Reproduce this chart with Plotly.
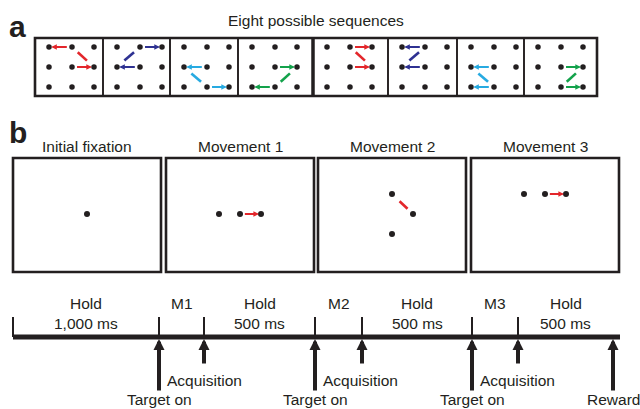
import plotly.graph_objects as go

# ---------------- data ----------------
title_a = "Eight possible sequences"
seq_colors = ["#e3262b", "#2e3192", "#27aae1", "#13a24b",
              "#e3262b", "#2e3192", "#27aae1", "#13a24b"]
# grid columns / rows visited by each sequence (start at centre)
seq_cols = [[1, 2, 1, 0], [1, 0, 1, 2], [1, 0, 1, 2], [1, 2, 1, 0],
            [1, 2, 1, 2], [1, 0, 1, 0], [1, 0, 1, 0], [1, 2, 1, 2]]
seq_rows = [[1, 1, 0, 0], [1, 1, 0, 0], [1, 1, 2, 2], [1, 1, 2, 2],
            [1, 1, 0, 0], [1, 1, 0, 0], [1, 1, 2, 2], [1, 1, 2, 2]]

stage_titles = ["Initial fixation", "Movement 1", "Movement 2", "Movement 3"]
stage_dot_cols = [[1], [0, 1, 2], [1, 2, 1], [0, 1, 2]]
stage_dot_rows = [[1], [1, 1, 1], [0, 1, 2], [0, 0, 0]]
stage_arrow_from = [None, (1, 1), (2, 1), (1, 0)]
stage_arrow_to = [None, (2, 1), (1, 0), (2, 0)]
stage_color = "#e3262b"

phase_top = ["Hold", "M1", "Hold", "M2", "Hold", "M3", "Hold"]
phase_bottom = ["1,000 ms", "", "500 ms", "", "500 ms", "", "500 ms"]
event_labels = ["Target on", "Acquisition", "Target on", "Acquisition",
                "Target on", "Acquisition", "Reward"]
event_kind = ["target", "acq", "target", "acq", "target", "acq", "reward"]

# ---------------- layout constants ----------------
W, H = 640, 409
INK = "#231f20"
FONT = "Liberation Sans, Arial, sans-serif"
FS = 15.5

a_edges = [35, 103, 170, 238, 313, 388, 457, 524, 597]
a_top, a_bot = 38, 96
a_colx = [14, 37, 59]
a_rowy = [47, 67, 87]

b_x0 = [13, 166, 318, 471]
b_w = 148
b_top, b_bot = 158, 272
b_dx, b_dy = 21, 20
b_cy = 214

tl_y = 337
tl_x = [13, 159, 204, 315, 362, 472, 518, 613]
tl_end = 620

fig = go.Figure()
shapes = []
ann = []


def txt(x, y, s, size=FS, bold=False, xanchor="center", yanchor="middle"):
    ann.append(dict(x=x, y=y, xref="x", yref="y", text=("<b>%s</b>" % s) if bold else s,
                    showarrow=False, xanchor=xanchor, yanchor=yanchor, borderpad=0,
                    font=dict(family=FONT, size=size, color=INK)))


def arrow(x0, y0, x1, y1, color, width, size):
    ann.append(dict(x=x1, y=y1, ax=x0, ay=y0, xref="x", yref="y", axref="x", ayref="y",
                    showarrow=True, arrowhead=2, arrowsize=size, arrowwidth=width,
                    arrowcolor=color, standoff=0, startstandoff=0, text=""))


def seg(x0, y0, x1, y1, color, width):
    shapes.append(dict(type="line", x0=x0, y0=y0, x1=x1, y1=y1, xref="x", yref="y",
                       line=dict(color=color, width=width)))


# ---------- panel a ----------
txt(17, 26, "a", size=30, bold=True)
txt((a_edges[0] + a_edges[-1]) / 2, 20, title_a)
dx_all, dy_all = [], []
for i in range(8):
    L, R = a_edges[i], a_edges[i + 1]
    shapes.append(dict(type="rect", x0=L, x1=R, y0=a_top, y1=a_bot, xref="x", yref="y",
                       line=dict(color=INK, width=1.6)))
    for cx in a_colx:
        for ry in a_rowy:
            dx_all.append(L + cx)
            dy_all.append(ry)
    cols, rows = seq_cols[i], seq_rows[i]
    for k in range(3):
        px, py = L + a_colx[cols[k]], a_rowy[rows[k]]
        qx, qy = L + a_colx[cols[k + 1]], a_rowy[rows[k + 1]]
        if py == qy:
            f0, f1 = 0.16, 0.9
            arrow(px + f0 * (qx - px), py, px + f1 * (qx - px), qy, seq_colors[i], 2.2, 0.5)
        else:
            f0, f1 = 0.32, 0.74
            seg(px + f0 * (qx - px), py + f0 * (qy - py),
                px + f1 * (qx - px), py + f1 * (qy - py), seq_colors[i], 2.6)
shapes.append(dict(type="rect", x0=a_edges[0], x1=a_edges[-1], y0=a_top, y1=a_bot,
                   xref="x", yref="y", line=dict(color=INK, width=2.6)))
shapes.append(dict(type="line", x0=a_edges[4], x1=a_edges[4], y0=a_top, y1=a_bot,
                   xref="x", yref="y", line=dict(color=INK, width=3.5)))
fig.add_trace(go.Scatter(x=dx_all, y=dy_all, mode="markers", hoverinfo="skip",
                         marker=dict(size=5.5, color=INK), showlegend=False))

# ---------- panel b ----------
txt(18, 132, "b", size=30, bold=True)
bx, by = [], []
for i in range(4):
    L = b_x0[i]
    cx = L + b_w / 2
    shapes.append(dict(type="rect", x0=L, x1=L + b_w, y0=b_top, y1=b_bot, xref="x", yref="y",
                       line=dict(color=INK, width=2.6)))
    txt(cx, 146, stage_titles[i])
    for c, r in zip(stage_dot_cols[i], stage_dot_rows[i]):
        bx.append(cx + (c - 1) * b_dx)
        by.append(b_cy + (r - 1) * b_dy)
    if stage_arrow_from[i] is not None:
        (c0, r0), (c1, r1) = stage_arrow_from[i], stage_arrow_to[i]
        px, py = cx + (c0 - 1) * b_dx, b_cy + (r0 - 1) * b_dy
        qx, qy = cx + (c1 - 1) * b_dx, b_cy + (r1 - 1) * b_dy
        if py == qy:
            arrow(px + 0.16 * (qx - px), py, px + 0.9 * (qx - px), qy, stage_color, 2.2, 0.5)
        else:
            seg(px + 0.26 * (qx - px), py + 0.26 * (qy - py),
                px + 0.64 * (qx - px), py + 0.64 * (qy - py), stage_color, 2.6)
fig.add_trace(go.Scatter(x=bx, y=by, mode="markers", hoverinfo="skip",
                         marker=dict(size=6, color=INK), showlegend=False))

# ---------- timeline ----------
shapes.append(dict(type="line", x0=tl_x[0], x1=tl_end, y0=tl_y, y1=tl_y, xref="x", yref="y",
                   line=dict(color=INK, width=5)))
for x in tl_x[:-1]:
    shapes.append(dict(type="line", x0=x, x1=x, y0=tl_y - 20, y1=tl_y, xref="x", yref="y",
                       line=dict(color=INK, width=2)))
for i in range(7):
    mx = (tl_x[i] + tl_x[i + 1]) / 2
    txt(mx, 303, phase_top[i])
    if phase_bottom[i]:
        txt(mx, 323, phase_bottom[i])
for i in range(7):
    x = tl_x[i + 1]
    if event_kind[i] == "acq":
        arrow(x, 365, x, tl_y + 2, INK, 4, 0.55)
    else:
        arrow(x, 392, x, tl_y + 2, INK, 4, 0.55)
for i in range(7):
    x = tl_x[i + 1]
    if event_kind[i] == "acq":
        txt(tl_x[i] + 7, 380, event_labels[i], xanchor="left")
    else:
        txt(x, 409, event_labels[i], yanchor="bottom")

fig.update_layout(
    width=W, height=H, margin=dict(l=0, r=0, t=0, b=0),
    paper_bgcolor="white", plot_bgcolor="white",
    xaxis=dict(range=[0, W], visible=False, fixedrange=True),
    yaxis=dict(range=[H, 0], visible=False, fixedrange=True),
    shapes=shapes, annotations=ann, showlegend=False,
)
fig.write_html("out.html", config={"displayModeBar": False},
               post_script="document.body.style.margin='0';document.body.style.overflow='hidden';")
